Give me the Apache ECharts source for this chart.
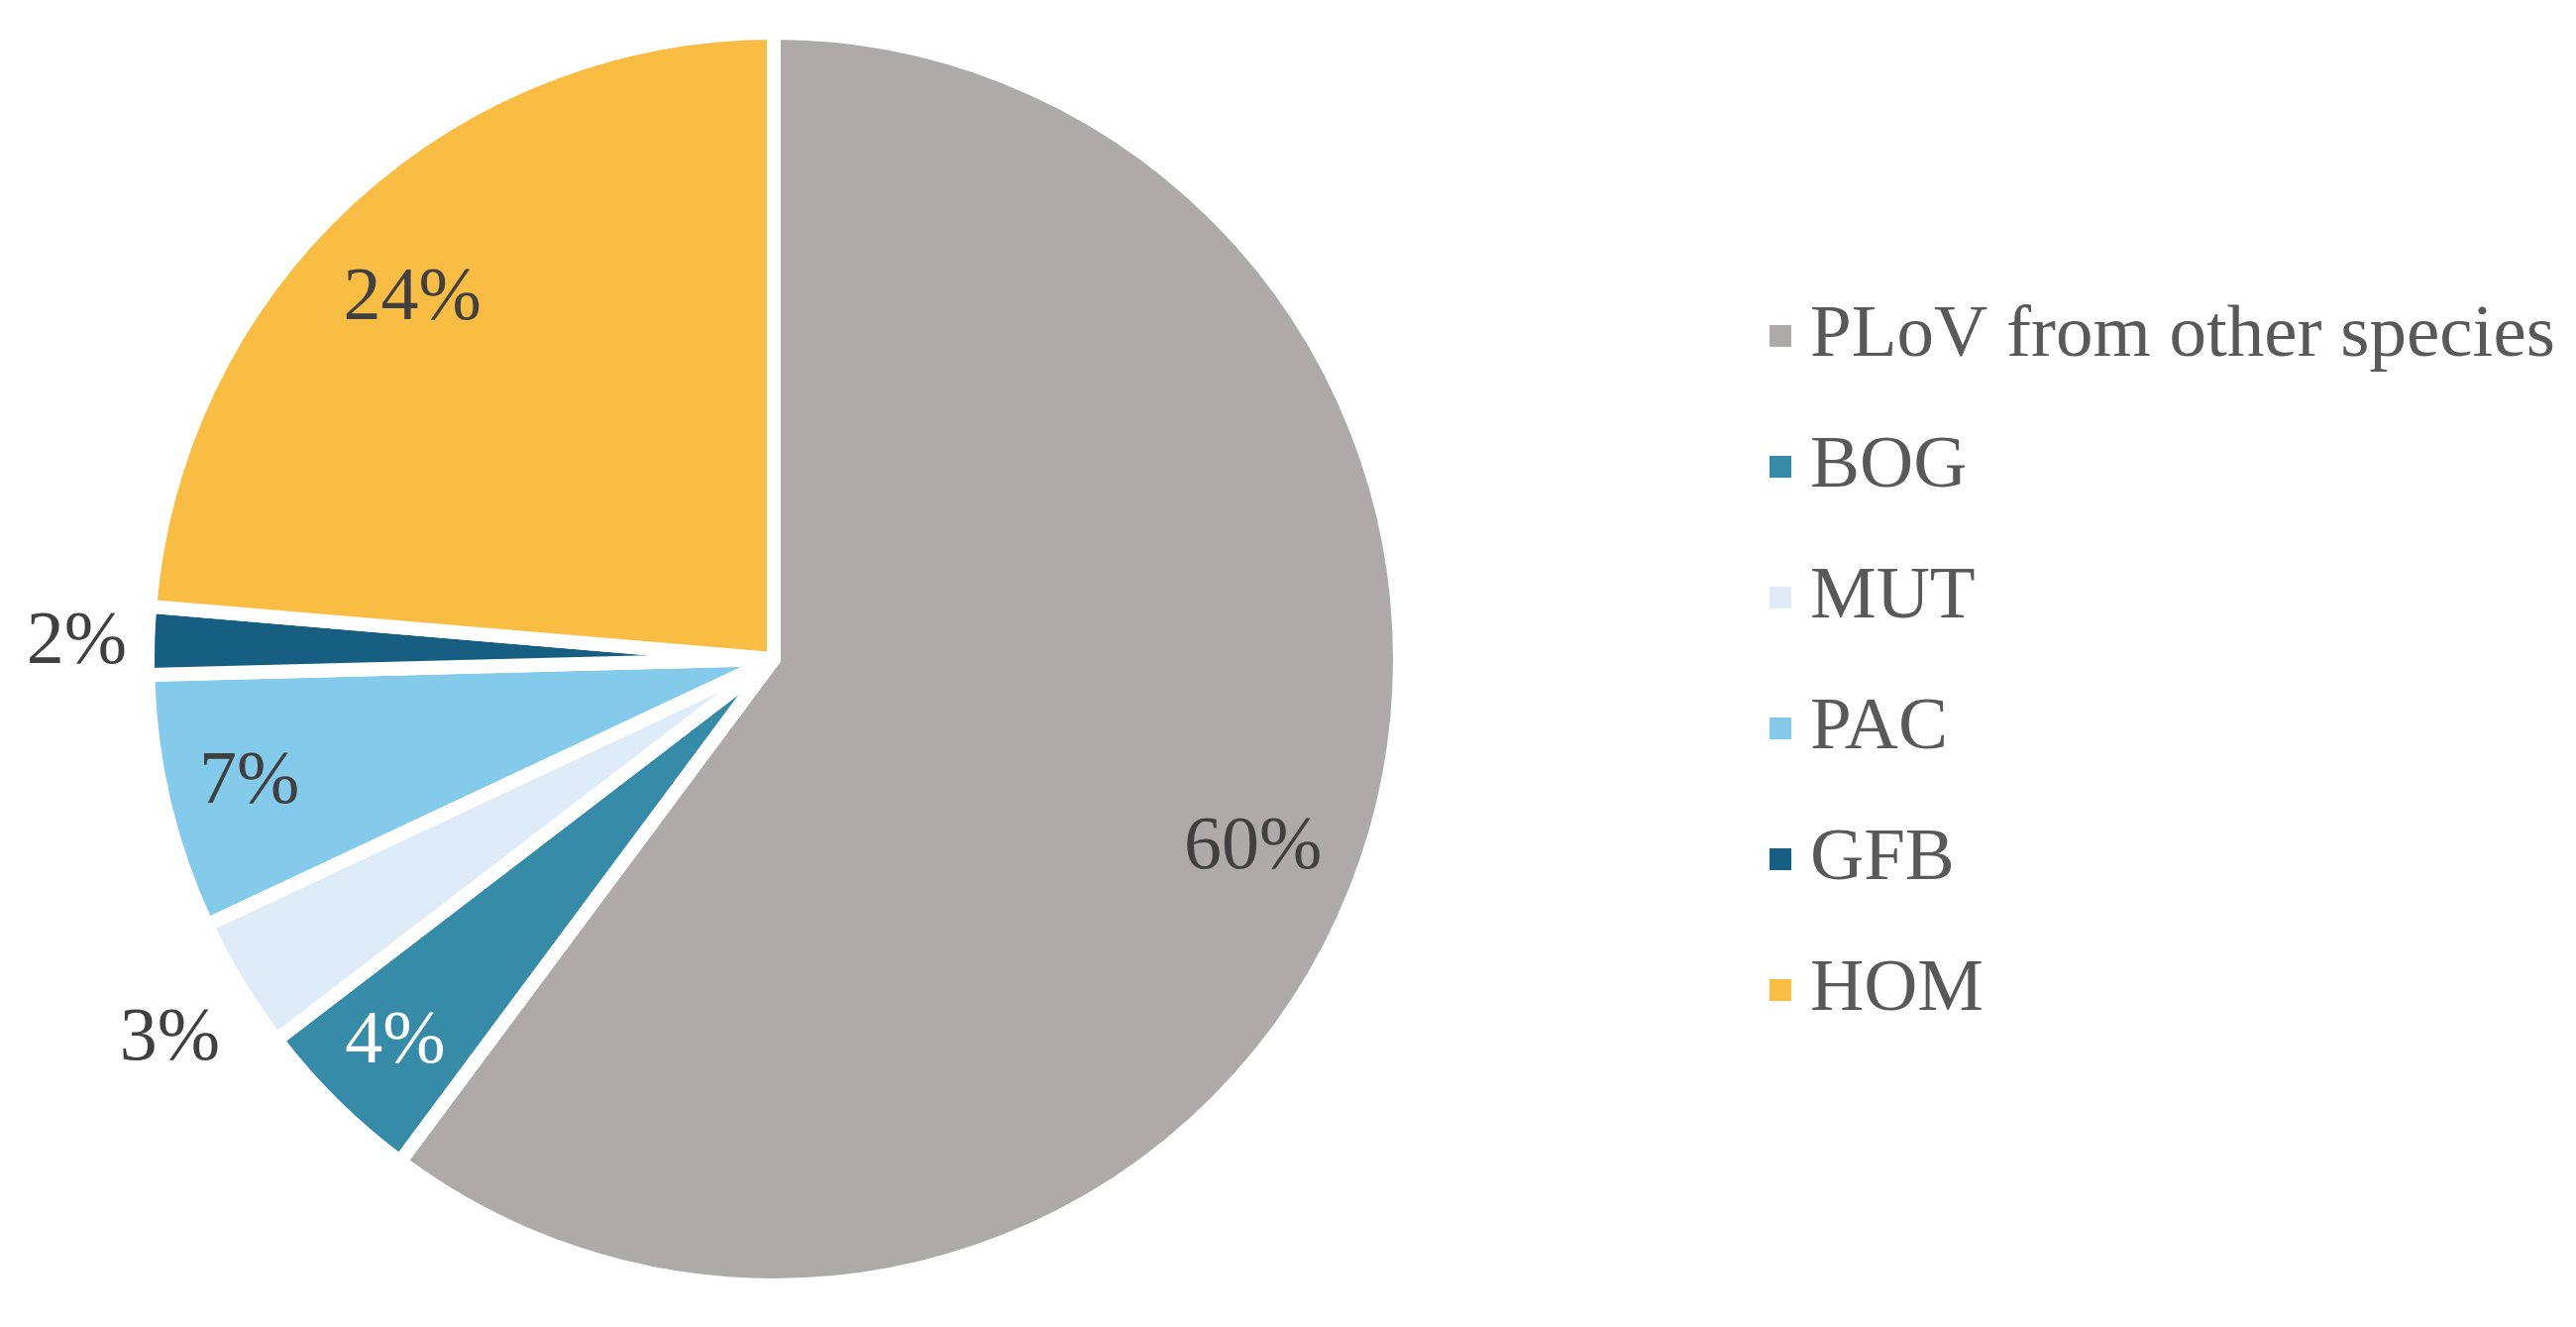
<!DOCTYPE html>
<html>
<head>
<meta charset="utf-8">
<script src="https://cdn.jsdelivr.net/npm/echarts@6/dist/echarts.min.js"></script>
<style>
  html, body { margin: 0; padding: 0; background: #fff; }
  #chart { width: 2600px; height: 1339px; }
</style>
</head>
<body>
<div id="chart"></div>
<script>
// categories and values (share of each source, in %)
var names = ['PLoV from other species', 'BOG', 'MUT', 'PAC', 'GFB', 'HOM'];
var values = [60.18, 4.42, 3.42, 6.58, 1.74, 23.66];
var colors = ['#AEAAAA', '#368BA8', '#DEEBF8', '#84CAEB', '#165F82', '#F9BD44'];
var labelColors = ['#404040', '#ffffff', '#404040', '#404040', '#404040', '#404040'];
// which label ring each slice's percentage sits on, plus small nudges
var labelRingOf = [0, 1, 2, 1, 3, 0];
var ringMid = [517, 541, 722, 703];
var labelNudge = [[-10, 28], [0, 0], [10, 8], [0, 0], [2, 5], [-13, 20]];

var center = [781, 665];
var serif = '"Liberation Serif", "Times New Roman", serif';

var chart = echarts.init(document.getElementById('chart'));

function mainData() {
    return names.map(function (n, i) {
        return { name: n, value: values[i], itemStyle: { color: colors[i] } };
    });
}

// transparent label-only ring: labels of its slices sit at the ring's middle
function labelRing(k) {
    return {
        type: 'pie',
        center: center,
        radius: [ringMid[k] - 60, ringMid[k] + 60],
        startAngle: 90,
        silent: true,
        avoidLabelOverlap: false,
        percentPrecision: 0,
        labelLine: { show: false },
        emphasis: { disabled: true },
        itemStyle: { borderWidth: 0 },
        label: {
            position: 'inside',
            formatter: '{d}%',
            fontFamily: serif,
            fontSize: 76
        },
        data: names.map(function (n, i) {
            return {
                name: n,
                value: values[i],
                itemStyle: { color: 'rgba(0,0,0,0)' },
                label: {
                    show: labelRingOf[i] === k,
                    color: labelColors[i],
                    offset: labelNudge[i]
                }
            };
        })
    };
}

var series = [{
    type: 'pie',
    center: center,
    radius: [0, 632],
    startAngle: 90,
    label: { show: false },
    labelLine: { show: false },
    emphasis: { disabled: true },
    itemStyle: { borderColor: '#ffffff', borderWidth: 14 },
    data: mainData()
}];
for (var k = 0; k < ringMid.length; k++) series.push(labelRing(k));

var option = {
    backgroundColor: '#ffffff',
    animation: false,
    legend: {
        orient: 'vertical',
        left: 1779,
        top: 294,
        itemWidth: 24,
        itemHeight: 24,
        itemGap: 52,
        icon: 'rect',
        selectedMode: false,
        data: names,
        textStyle: {
            fontFamily: serif,
            fontSize: 75,
            lineHeight: 80,
            color: '#595959',
            padding: [0, 0, 0, 13]
        }
    },
    series: series
};

chart.setOption(option);
</script>
</body>
</html>
